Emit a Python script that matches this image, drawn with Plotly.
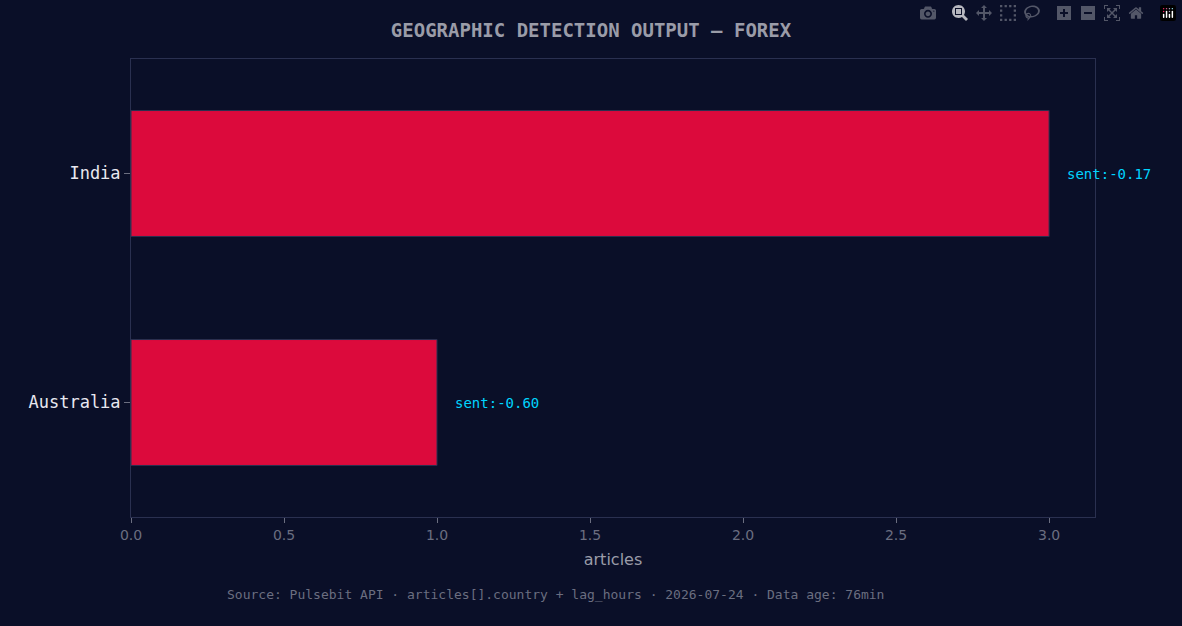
import plotly.graph_objects as go

countries = ["Australia", "India"]
articles = [1, 3]
sentiment = ["sent:-0.60", "sent:-0.17"]

bg = "#0a0f28"
mono = "DejaVu Sans Mono"

fig = go.Figure(go.Bar(
    x=articles, y=countries, orientation="h", width=0.55,
    marker=dict(color="#dc0a3c", line=dict(color="#2a3050", width=1)),
))

for c, a, s in zip(countries, articles, sentiment):
    fig.add_annotation(x=a, y=c, text=s, showarrow=False, xanchor="left", xshift=16,
                       font=dict(family=mono, size=14, color="#00d4ff"))

fig.update_layout(
    width=1182, height=626,
    paper_bgcolor=bg, plot_bgcolor=bg,
    margin=dict(l=131, r=87, t=59, b=109),
    title=dict(text="<b>GEOGRAPHIC DETECTION OUTPUT — FOREX</b>", x=0.5, y=0.962,
               xanchor="center", font=dict(family=mono, size=19, color="#9a9ca8")),
    showlegend=False,
)
fig.add_annotation(text="Source: Pulsebit API · articles[].country + lag_hours · 2026-07-24 · Data age: 76min",
                   xref="paper", yref="paper", x=0.44, y=-0.19, showarrow=False,
                   font=dict(family=mono, size=13, color="#6b6e80"))
fig.update_xaxes(range=[0, 3.15], dtick=0.5, tickformat=".1f", showgrid=False, zeroline=False,
                 showline=True, linecolor="#2a3050", mirror=True, ticks="outside", tickcolor="#6b6e80",
                 tickfont=dict(family="DejaVu Sans", size=14, color="#6b6e80"),
                 title=dict(text="articles", standoff=12,
                            font=dict(family="DejaVu Sans", size=16, color="#9a9ca8")))
fig.update_yaxes(showgrid=False, showline=True, linecolor="#2a3050", mirror=True,
                 ticks="outside", tickcolor="#6b6e80", ticklen=6,
                 tickfont=dict(family=mono, size=17, color="#e8e8f0"))

fig.write_html("out.html", post_script="document.body.style.margin='0';")
